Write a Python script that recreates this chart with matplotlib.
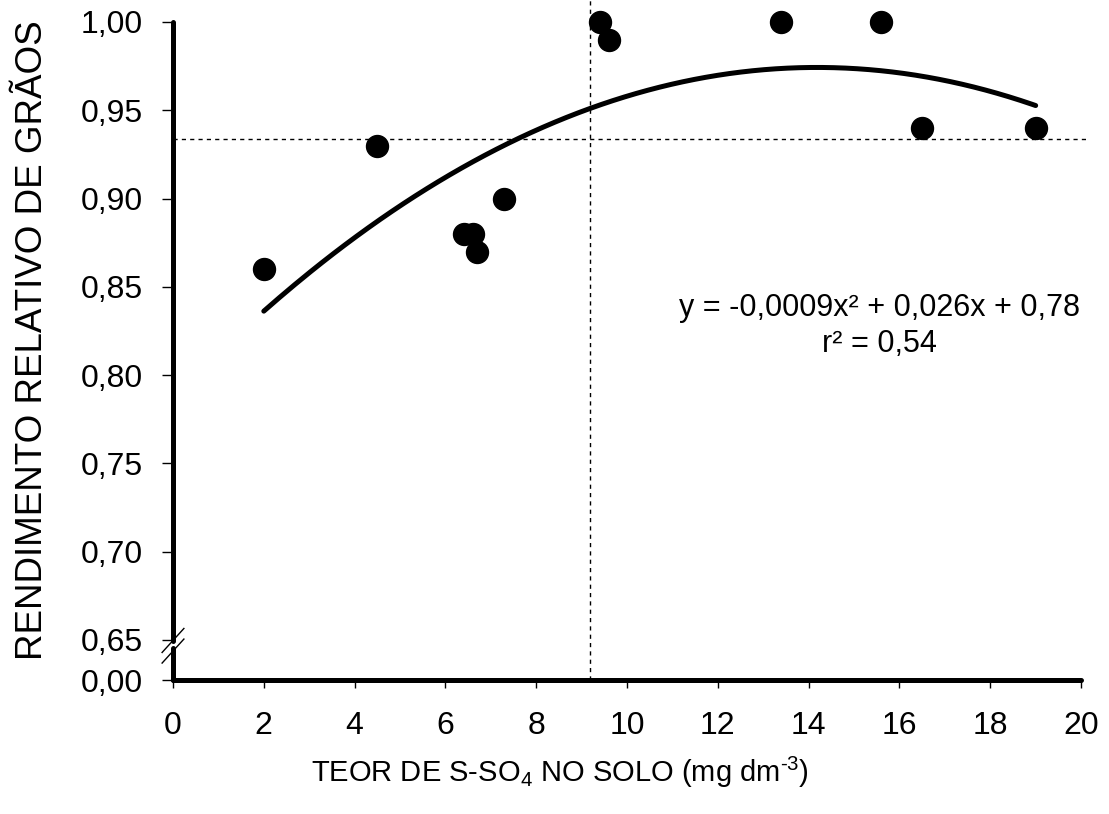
import numpy as np
import matplotlib
matplotlib.use("Agg")
import matplotlib.pyplot as plt

plt.rcParams['font.family'] = ['Liberation Sans', 'DejaVu Sans']
plt.rcParams['mathtext.fontset'] = 'custom'
plt.rcParams['mathtext.rm'] = 'Liberation Sans'
plt.rcParams['mathtext.it'] = 'Liberation Sans'

# data
teor_s = [2.0, 4.5, 6.4, 6.6, 6.7, 7.3, 9.4, 9.6, 13.4, 15.6, 16.5, 19.0]
rend_rel = [0.86, 0.93, 0.88, 0.88, 0.87, 0.90, 1.00, 0.99, 1.00, 1.00, 0.94, 0.94]

x_ticks = [0, 2, 4, 6, 8, 10, 12, 14, 16, 18, 20]
# lowest tick stands for 0,00 below the axis break
y_ticks = [0.6273, 0.65, 0.70, 0.75, 0.80, 0.85, 0.90, 0.95, 1.00]
y_labels = ["0,00", "0,65", "0,70", "0,75", "0,80", "0,85", "0,90", "0,95", "1,00"]

x_crit = 9.19
y_crit = 0.934

fig = plt.figure(figsize=(11.09, 8.14), dpi=100)
ax = fig.add_axes([0.156, 0.1646, 0.8188, 0.8084])
ax.set_xlim(0, 20)
ax.set_ylim(y_ticks[0], 1.0)

# quadratic trendline
coef = np.polyfit(teor_s, rend_rel, 2)
xs = np.linspace(min(teor_s), max(teor_s), 200)
ax.plot(xs, np.polyval(coef, xs), color='black', lw=3.6, solid_capstyle='round', zorder=3)

ax.scatter(teor_s, rend_rel, s=250, color='black', zorder=4, clip_on=False)

# critical level lines
ax.plot([x_crit, x_crit], [y_ticks[0], 1.0125], color='black', lw=1.0,
        linestyle=(0, (3, 3)), clip_on=False, zorder=2)
ax.plot([0, 20.15], [y_crit, y_crit], color='black', lw=1.0,
        linestyle=(0, (3, 3)), clip_on=False, zorder=2)

ax.text(15.57, 0.8278, "y = -0,0009x² + 0,026x + 0,78\nr² = 0,54",
        ha='center', va='center', fontsize=22, linespacing=1.25)

# spines
for s in ['top', 'right', 'left']:
    ax.spines[s].set_visible(False)
ax.spines['bottom'].set_linewidth(3.6)
ax.spines['bottom'].set_capstyle('round')

# left spine drawn by hand with a break
brk_lo, brk_hi = 0.6455, 0.6495
ax.plot([0, 0], [y_ticks[0], brk_lo], color='black', lw=3.6,
        solid_capstyle='round', clip_on=False, zorder=5)
ax.plot([0, 0], [brk_hi, 1.0], color='black', lw=3.6,
        solid_capstyle='round', clip_on=False, zorder=5)
for yb in [0.6437, 0.6497]:
    ax.plot([-0.24, 0.24], [yb - 0.0068, yb + 0.0068], color='black', lw=1.0,
            clip_on=False, zorder=6)

ax.set_xticks(x_ticks)
ax.set_xticklabels([str(v) for v in x_ticks])
ax.set_yticks(y_ticks)
ax.set_yticklabels(y_labels)
ax.tick_params(axis='x', direction='out', length=6, width=1.0, pad=16, labelsize=23)
ax.tick_params(axis='y', direction='out', length=8, width=1.0, pad=14, labelsize=23)

fig.text(560 / 1109, 1 - 772 / 814, r"TEOR DE S-SO$_4$ NO SOLO (mg dm$^{\text{-3}}$)",
         fontsize=21, ha='center', va='center')
fig.text(33 / 1109, 1 - 340 / 814, "RENDIMENTO RELATIVO DE GRÃOS",
         fontsize=26.5, ha='center', va='center', rotation=90)

fig.savefig("out.png", dpi=100)
